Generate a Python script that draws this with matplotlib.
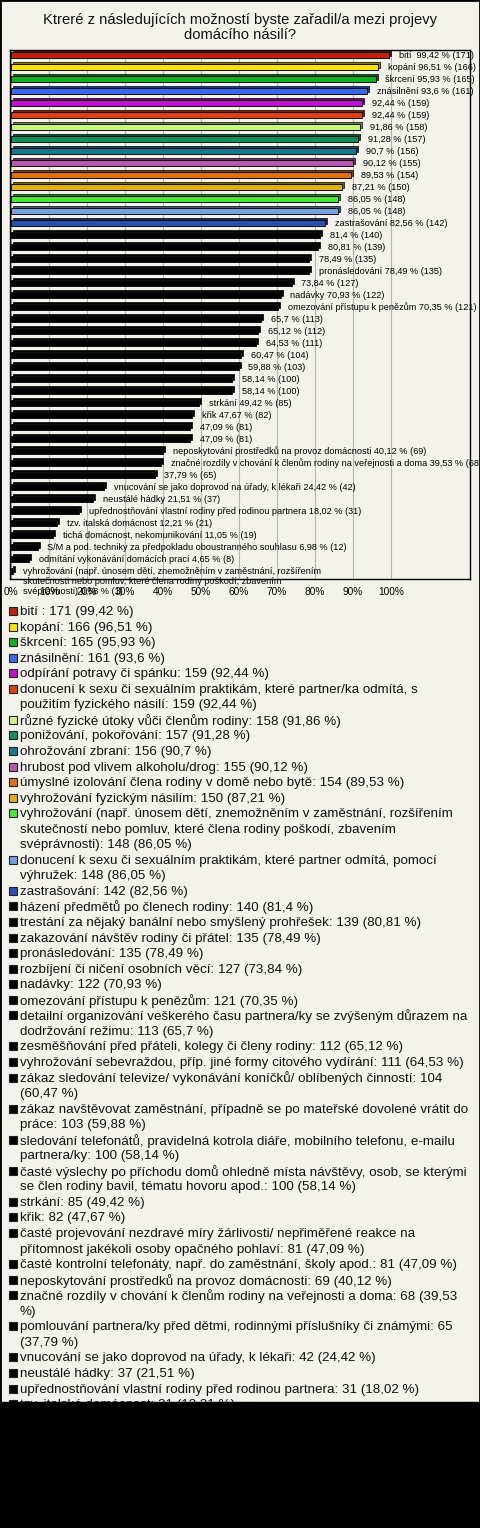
import matplotlib
matplotlib.use("Agg")
import matplotlib.pyplot as plt
from matplotlib.patches import Rectangle
import matplotlib.colors as mcolors
import textwrap

plt.rcParams['font.family'] = ['Liberation Sans', 'DejaVu Sans']

# ---------------- data ----------------
title_lines = ["Ktreré z následujících možností byste zařadil/a mezi projevy",
               "domácího násilí?"]

categories = [
    "bití ", "kopání", "škrcení", "znásilnění", "odpírání potravy či spánku",
    "donucení k sexu či sexuálním praktikám, které partner/ka odmítá, s použitím fyzického násilí",
    "různé fyzické útoky vůči členům rodiny", "ponižování, pokořování", "ohrožování zbraní",
    "hrubost pod vlivem alkoholu/drog", "úmyslné izolování člena rodiny v domě nebo bytě",
    "vyhrožování fyzickým násilím",
    "vyhrožování (např. únosem dětí, znemožněním v zaměstnání, rozšířením skutečností nebo pomluv, které člena rodiny poškodí, zbavením svéprávnosti)",
    "donucení k sexu či sexuálním praktikám, které partner odmítá, pomocí výhružek",
    "zastrašování", "házení předmětů po členech rodiny",
    "trestání za nějaký banální nebo smyšlený prohřešek", "zakazování návštěv rodiny či přátel",
    "pronásledování", "rozbíjení či ničení osobních věcí", "nadávky", "omezování přístupu k penězům",
    "detailní organizování veškerého času partnera/ky se zvýšeným důrazem na dodržování režimu",
    "zesměšňování před přáteli, kolegy či členy rodiny",
    "vyhrožování sebevraždou, příp. jiné formy citového vydírání",
    "zákaz sledování televize/ vykonávání koníčků/ oblíbených činností",
    "zákaz navštěvovat zaměstnání, případně se po mateřské dovolené vrátit do práce",
    "sledování telefonátů, pravidelná kotrola diáře, mobilního telefonu, e-mailu partnera/ky",
    "časté výslechy po příchodu domů ohledně místa návštěvy, osob, se kterými se člen rodiny bavil, tématu hovoru apod.",
    "strkání", "křik",
    "časté projevování nezdravé míry žárlivosti/ nepřiměřené reakce na přítomnost jakékoli osoby opačného pohlaví",
    "časté kontrolní telefonáty, např. do zaměstnání, školy apod.",
    "neposkytování prostředků na provoz domácnosti",
    "značné rozdíly v chování k členům rodiny na veřejnosti a doma",
    "pomlouvání partnera/ky před dětmi, rodinnými příslušníky či známými",
    "vnucování se jako doprovod na úřady, k lékaři", "neustálé hádky",
    "upřednostňování vlastní rodiny před rodinou partnera", "tzv. italská domácnost",
    "tichá domácnost, nekomunikování",
    "S/M a pod. techniky za předpokladu oboustranného souhlasu",
    "odmítání vykonávání domácích prací",
    "vyhrožování (např. únosem dětí, znemožněním v zaměstnání, rozšířením skutečnosti nebo pomluv, které člena rodiny poškodí, zbavením svéprávnosti)",
]

counts = [171, 166, 165, 161, 159, 159, 158, 157, 156, 155, 154, 150, 148, 148, 142,
          140, 139, 135, 135, 127, 122, 121, 113, 112, 111, 104, 103, 100, 100, 85,
          82, 81, 81, 69, 68, 65, 42, 37, 31, 21, 19, 12, 8, 1]

percents = [99.42, 96.51, 95.93, 93.6, 92.44, 92.44, 91.86, 91.28, 90.7, 90.12, 89.53, 87.21,
            86.05, 86.05, 82.56, 81.4, 80.81, 78.49, 78.49, 73.84, 70.93, 70.35, 65.7, 65.12,
            64.53, 60.47, 59.88, 58.14, 58.14, 49.42, 47.67, 47.09, 47.09, 40.12, 39.53, 37.79,
            24.42, 21.51, 18.02, 12.21, 11.05, 6.98, 4.65, 0.58]

# whether the bar label in the chart shows the category name
name_in_bar_label = [True, True, True, True, False, False, False, False, False, False, False,
                     False, False, False, True, False, False, False, True, False, True, True,
                     False, False, False, False, False, False, False, True, True, False, False,
                     True, True, False, True, True, True, True, True, True, True, True]

colors = ['#c0200c', '#f8e000', '#10b020', '#3868f0', '#c010d0', '#e04010', '#c8f878',
          '#109058', '#187890', '#b858b0', '#e07010', '#e0b010', '#48e838', '#78a0e0',
          '#2850b0'] + ['#000000'] * 29

x_ticks = [0, 10, 20, 30, 40, 50, 60, 70, 80, 90, 100]
x_tick_labels = ["0%", "10%", "20%", "30%", "40%", "50%", "60%", "70%", "80%", "90%", "100%"]

# ---------------- layout ----------------
W, H = 480, 1528
BG = '#f3f2eb'
fig = plt.figure(figsize=(W / 100, H / 100), dpi=100, facecolor=BG)


def fx(px):
    return px / W


def fy(py):
    return 1 - py / H


ax_top, ax_bot, ax_left, ax_right = 50, 579, 10, 470
ax = fig.add_axes([fx(ax_left), fy(ax_bot), fx(ax_right - ax_left), (ax_bot - ax_top) / H])
ax.set_facecolor(BG)

px_per_pct = 3.8
x0_px = 11
ax.set_xlim((ax_left - x0_px) / px_per_pct, (ax_right - x0_px) / px_per_pct)
bar0_px, bar_step = 55, 12.0
ax.set_ylim((ax_bot - bar0_px) / bar_step, (ax_top - bar0_px) / bar_step)

for s in ax.spines.values():
    s.set_color('black')
    s.set_linewidth(1.0)

ax.set_xticks(x_ticks)
ax.set_xticklabels(x_tick_labels, fontsize=7.3)
ax.tick_params(axis='x', length=0, pad=5.5)
ax.set_yticks([])
ax.grid(axis='x', color='#b4b4b4', linewidth=0.8)
ax.set_axisbelow(True)


def fmt_pct(p):
    s = f"{p:.2f}".rstrip('0').rstrip('.')
    return s.replace('.', ',')


h = 0.47
dx = 2.0 / px_per_pct
dy = 2.0 / bar_step
for i, (p, c) in enumerate(zip(percents, colors)):
    rgb = mcolors.to_rgb(c)
    dark = tuple(v * 0.55 for v in rgb)
    ax.barh(i - dy, p, left=dx, height=h, color=dark, edgecolor='#000000', linewidth=0.5, zorder=2)
    ax.barh(i, p, height=h, color=c, edgecolor='#101010', linewidth=0.7, zorder=3)

for i, (name, p, n, show) in enumerate(zip(categories, percents, counts, name_in_bar_label)):
    lab = f"{fmt_pct(p)} % ({n})"
    if show:
        lab = f"{name} {lab}"
    if len(lab) > 75:
        lab = textwrap.fill(lab, width=70)
        ax.text(p + 2.6, i - 0.34, lab, va='top', ha='left', fontsize=6.6,
                linespacing=1.15, clip_on=False, zorder=5)
    else:
        ax.text(p + 2.6, i, lab, va='center', ha='left', fontsize=6.6,
                clip_on=False, zorder=5)

# title
fig.text(0.5, fy(20), title_lines[0], ha='center', va='center', fontsize=10.6, color='#111111')
fig.text(0.5, fy(35), title_lines[1], ha='center', va='center', fontsize=10.6, color='#111111')

# legend (manual, wrapped by pixel width)
renderer = fig.canvas.get_renderer()
LEG_FS = 9.6


def text_w(s):
    t = fig.text(0, 0, s, fontsize=LEG_FS)
    w = t.get_window_extent(renderer).width
    t.remove()
    return w


def wrap_px(s, maxw):
    words = s.split(' ')
    lines, cur = [], ''
    for w in words:
        trial = w if cur == '' else cur + ' ' + w
        if cur == '' or text_w(trial) <= maxw:
            cur = trial
        else:
            lines.append(cur)
            cur = w
    lines.append(cur)
    return lines


line_y0, line_step = 612, 15.55
text_x = 20
li = 0
for name, n, p, c in zip(categories[:43], counts, percents, colors):
    lab = f"{name}: {n} ({fmt_pct(p)} %)"
    lines = wrap_px(lab, 449)
    yc = line_y0 + line_step * li
    fig.patches.append(Rectangle((fx(9), fy(yc + 3)), fx(8), 8 / H, transform=fig.transFigure,
                                 facecolor=c, edgecolor='#222222', linewidth=0.8, zorder=4))
    for k, ln in enumerate(lines):
        fig.text(fx(text_x), fy(yc + line_step * k), ln, ha='left', va='center',
                 fontsize=LEG_FS, color='#111111', zorder=4)
    li += len(lines)

# black bottom area and outer border
fig.patches.append(Rectangle((0, 0), 1, (H - 1402) / H, transform=fig.transFigure,
                             facecolor='black', edgecolor='black', zorder=10))
fig.patches.append(Rectangle((0, 0), 1, 1, transform=fig.transFigure, fill=False,
                             edgecolor='black', linewidth=2, zorder=11))

fig.savefig("out.png", dpi=100, facecolor=BG)
